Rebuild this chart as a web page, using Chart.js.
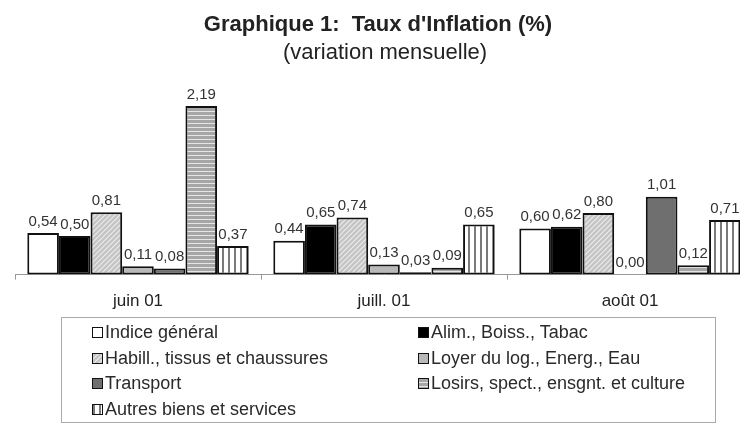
<!DOCTYPE html>
<html>
<head>
<meta charset="utf-8">
<script src="https://cdn.jsdelivr.net/npm/chart.js@4/dist/chart.umd.min.js"></script>
<style>
  html, body { margin: 0; padding: 0; background: #fff; overflow: hidden; width: 740px; height: 424px; }
  #wrap { position: relative; width: 740px; height: 424px; overflow: hidden; }
  #chart { position: absolute; left: 0; top: 0; }
  .ttl { position: absolute; white-space: pre; font-family: "Liberation Sans", Arial, sans-serif; color: #222; transform: translateX(-50%); line-height: 22px; }
  #t1 { left: 378px; top: 13px; font-size: 22px; font-weight: bold; }
  #t2 { left: 385px; top: 41px; font-size: 22px; }
  #legend {
    position: absolute; left: 61px; top: 317px; width: 655px; height: 106px;
    border: 1px solid #aaa; box-sizing: border-box;
    display: grid; grid-template-columns: 326px 300px; grid-auto-rows: 25.5px;
    padding: 2px 0 0 30px;
    font-family: "Liberation Sans", Arial, sans-serif; font-size: 18px; color: #2a2a2a;
  }
  #legend div { display: flex; align-items: center; white-space: nowrap; }
  #legend span.sw { width: 9px; height: 9px; border: 1.5px solid #111; margin-right: 2px; }
</style>
</head>
<body>
<div id="wrap">
  <canvas id="chart" width="760" height="424" style="width:760px;height:424px"></canvas>
  <div class="ttl" id="t1">Graphique 1:  Taux d'Inflation (%)</div>
  <div class="ttl" id="t2">(variation mensuelle)</div>
  <div id="legend"></div>
</div>
<script>
var categories = ['juin 01', 'juill. 01', 'août 01'];
var seriesNames = [
  'Indice général',
  'Alim., Boiss., Tabac',
  'Habill., tissus et chaussures',
  'Loyer du log., Energ., Eau',
  'Transport',
  'Losirs, spect., ensgnt. et culture',
  'Autres biens et services'
];
var indiceGeneral = [0.54, 0.44, 0.60];
var alimBoiss     = [0.50, 0.65, 0.62];
var habill        = [0.81, 0.74, 0.80];
var loyer         = [0.11, 0.13, 0.00];
var transport     = [0.08, 0.03, 1.01];
var losirs        = [2.19, 0.09, 0.12];
var autres        = [0.37, 0.65, 0.71];

// small tile canvases used as bar fills
function makeTile(kind) {
  var c = document.createElement('canvas');
  var x;
  if (kind === 'white' || kind === 'black' || kind === 'gray' || kind === 'dark') {
    c.width = 4; c.height = 4;
    x = c.getContext('2d');
    x.fillStyle = { white: '#ffffff', black: '#000000', gray: '#b9b9b9', dark: '#6f6f6f' }[kind];
    x.fillRect(0, 0, 4, 4);
  } else if (kind === 'diag') {
    c.width = 5; c.height = 5;
    x = c.getContext('2d');
    x.fillStyle = '#c4c4c4';
    x.fillRect(0, 0, 5, 5);
    x.strokeStyle = '#ececec';
    x.lineWidth = 1.2;
    x.beginPath();
    x.moveTo(-1, 6); x.lineTo(6, -1);
    x.moveTo(-1, 1); x.lineTo(1, -1);
    x.moveTo(4, 6); x.lineTo(6, 4);
    x.stroke();
  } else if (kind === 'hstripe') {
    c.width = 4; c.height = 4;
    x = c.getContext('2d');
    x.fillStyle = '#a6a6a6';
    x.fillRect(0, 0, 4, 4);
    x.fillStyle = '#e6e6e6';
    x.fillRect(0, 3, 4, 1);
  } else if (kind === 'vstripe') {
    c.width = 6; c.height = 4;
    x = c.getContext('2d');
    x.fillStyle = '#ffffff';
    x.fillRect(0, 0, 6, 4);
    x.fillStyle = '#7a7a7a';
    x.fillRect(0, 0, 2, 4);
  }
  return c;
}

var tileKinds = ['white', 'black', 'diag', 'gray', 'dark', 'hstripe', 'vstripe'];
var seriesValues = [indiceGeneral, alimBoiss, habill, loyer, transport, losirs, autres];

var ctx = document.getElementById('chart').getContext('2d');
var datasets = seriesNames.map(function (name, i) {
  return {
    label: name,
    data: seriesValues[i],
    backgroundColor: ctx.createPattern(makeTile(tileKinds[i]), 'repeat'),
    borderColor: '#111',
    borderWidth: 2,
    borderSkipped: false,
    barPercentage: 1.0,
    categoryPercentage: 0.9
  };
});

// value labels above bars
var valueLabels = {
  id: 'valueLabels',
  afterDatasetsDraw: function (chart) {
    var c = chart.ctx;
    c.save();
    c.font = '15px "Liberation Sans", Arial, sans-serif';
    c.fillStyle = '#333';
    c.textAlign = 'center';
    c.textBaseline = 'bottom';
    chart.data.datasets.forEach(function (ds, i) {
      chart.getDatasetMeta(i).data.forEach(function (bar, j) {
        c.fillText(ds.data[j].toFixed(2).replace('.', ','), bar.x, bar.y - 4);
      });
    });
    c.restore();
  }
};

new Chart(ctx, {
  type: 'bar',
  data: { labels: categories, datasets: datasets },
  options: {
    responsive: false,
    animation: false,
    layout: { padding: { left: 15, right: 7, top: 82, bottom: 100 } },
    plugins: { legend: { display: false }, tooltip: { enabled: false } },
    scales: {
      x: {
        grid: { drawOnChartArea: false, drawTicks: true, tickLength: 5, color: '#999', offset: true },
        border: { color: '#999', width: 1 },
        ticks: { color: '#222', padding: 12, font: { family: '"Liberation Sans", Arial, sans-serif', size: 17 } }
      },
      y: { display: false, min: 0, max: 2.5 }
    }
  },
  plugins: [valueLabels]
});

// legend box, two columns
var legend = document.getElementById('legend');
seriesNames.forEach(function (name, i) {
  var item = document.createElement('div');
  var sw = document.createElement('span');
  sw.className = 'sw';
  sw.style.backgroundImage = 'url(' + makeTile(tileKinds[i]).toDataURL() + ')';
  item.appendChild(sw);
  item.appendChild(document.createTextNode(name));
  legend.appendChild(item);
});
</script>
</body>
</html>
